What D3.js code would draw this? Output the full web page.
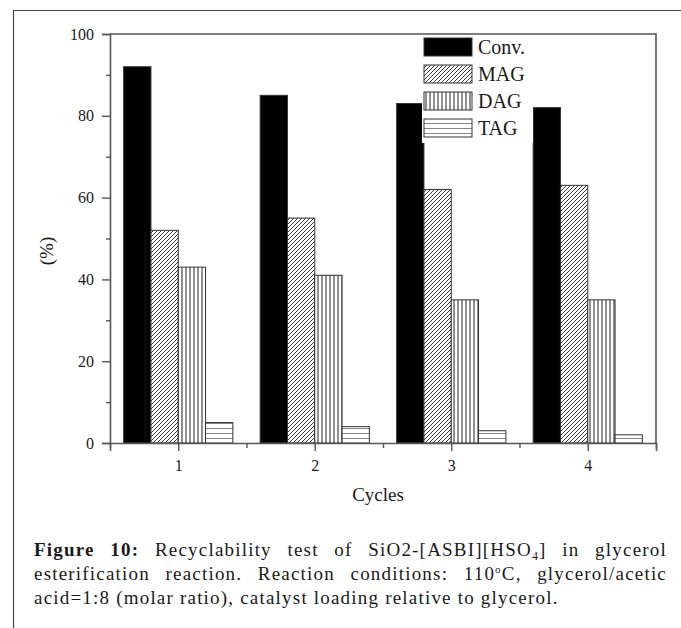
<!DOCTYPE html>
<html>
<head>
<meta charset="utf-8">
<script src="https://cdn.jsdelivr.net/npm/d3@7"></script>
<style>
  html, body { margin: 0; padding: 0; background: #fff; }
  svg { display: block; }
  text { font-family: "Liberation Serif", "Times New Roman", serif; fill: #1a1a1a; }
</style>
</head>
<body>
<svg id="chart" width="681" height="628"></svg>
<script>
// ---- data ----
const cycles = [1, 2, 3, 4];
const seriesNames = ["Conv.", "MAG", "DAG", "TAG"];
const conv = [92, 85, 83, 82];
const mag = [52, 55, 62, 63];
const dag = [43, 41, 35, 35];
const tag = [5, 4, 3, 2];
const yTicks = [0, 20, 40, 60, 80, 100];
const yMinorTicks = [10, 30, 50, 70, 90];
const xMinorTicks = [0.5, 1.5, 2.5, 3.5, 4.5];

const seriesValues = [conv, mag, dag, tag];
const fills = ["#000", "url(#pMAG)", "url(#pDAG)", "url(#pTAG)"];

const svg = d3.select("#chart");
const L = 110, R = 656, T = 34, B = 443;

const x = d3.scaleLinear().domain([0.5, 4.5]).range([L, R]);
const y = d3.scaleLinear().domain([0, 100]).range([B, T]);

// patterns
const defs = svg.append("defs");
const pm = defs.append("pattern").attr("id", "pMAG").attr("patternUnits", "userSpaceOnUse")
  .attr("width", 4).attr("height", 4);
pm.append("rect").attr("width", 4).attr("height", 4).attr("fill", "#fff");
pm.append("path").attr("d", "M-1,1 L1,-1 M0,4 L4,0 M3,5 L5,3")
  .attr("stroke", "#222").attr("stroke-width", 0.9);
const pd = defs.append("pattern").attr("id", "pDAG").attr("patternUnits", "userSpaceOnUse")
  .attr("width", 4).attr("height", 4);
pd.append("rect").attr("width", 4).attr("height", 4).attr("fill", "#fff");
pd.append("path").attr("d", "M2,0 L2,4").attr("stroke", "#222").attr("stroke-width", 1);
const pt = defs.append("pattern").attr("id", "pTAG").attr("patternUnits", "userSpaceOnUse")
  .attr("width", 5).attr("height", 5).attr("y", B);
pt.append("rect").attr("width", 5).attr("height", 5).attr("fill", "#fff");
pt.append("path").attr("d", "M0,0 L5,0").attr("stroke", "#222").attr("stroke-width", 1.1);

// outer frame
svg.append("path").attr("d", "M13.5,628 L13.5,10.5 L681,10.5")
  .attr("fill", "none").attr("stroke", "#444").attr("stroke-width", 1.2);

// bars
const bw = 0.2;
seriesValues.forEach((vals, si) => {
  svg.append("g").selectAll("rect").data(vals).enter().append("rect")
    .attr("x", (d, i) => x(cycles[i] - 0.4 + si * bw))
    .attr("width", x(bw) - x(0))
    .attr("y", d => y(d))
    .attr("height", d => y(0) - y(d))
    .attr("fill", fills[si])
    .attr("stroke", "#333").attr("stroke-width", 1);
});

// frame of plot
svg.append("path").attr("d", `M${L},${T} L${R},${T} L${R},${B}`)
  .attr("fill", "none").attr("stroke", "#555").attr("stroke-width", 1.6);

// y axis
const yAxis = d3.axisLeft(y).tickValues(yTicks).tickSize(8).tickPadding(8);
const gy = svg.append("g").attr("transform", `translate(${L},0)`).call(yAxis);
gy.select(".domain").attr("stroke", "#555").attr("stroke-width", 1.6);
gy.selectAll(".tick line").attr("stroke", "#555").attr("stroke-width", 1.4);
gy.selectAll(".tick text").attr("font-size", 16).attr("font-family", "Liberation Serif").attr("fill", "#1a1a1a");
const gyMinor = svg.append("g").attr("transform", `translate(${L},0)`)
  .call(d3.axisLeft(y).tickValues(yMinorTicks).tickSize(4).tickFormat(""));
gyMinor.select(".domain").remove();
gyMinor.selectAll(".tick line").attr("stroke", "#555").attr("stroke-width", 1.4);

// x axis
const xAxis = d3.axisBottom(x).tickValues(cycles).tickSize(8).tickPadding(9).tickFormat(d3.format("d"));
const gx = svg.append("g").attr("transform", `translate(0,${B})`).call(xAxis);
gx.select(".domain").attr("stroke", "#555").attr("stroke-width", 1.6);
gx.selectAll(".tick line").attr("stroke", "#555").attr("stroke-width", 1.4);
gx.selectAll(".tick text").attr("font-size", 16).attr("font-family", "Liberation Serif").attr("fill", "#1a1a1a");
const gxMinor = svg.append("g").attr("transform", `translate(0,${B})`)
  .call(d3.axisBottom(x).tickValues(xMinorTicks).tickSize(5).tickFormat(""));
gxMinor.select(".domain").remove();
gxMinor.selectAll(".tick line").attr("stroke", "#555").attr("stroke-width", 1.4);

// axis titles
svg.append("text").attr("transform", "translate(53,251) rotate(-90)")
  .attr("text-anchor", "middle").attr("font-size", 19).text("(%)");
svg.append("text").attr("x", 378).attr("y", 501)
  .attr("text-anchor", "middle").attr("font-size", 19).text("Cycles");

// legend
const lg = svg.append("g");
lg.append("rect").attr("x", 422).attr("y", 35).attr("width", 111).attr("height", 108).attr("fill", "#fff");
seriesNames.forEach((name, i) => {
  const yy = 38 + i * 27;
  lg.append("rect").attr("x", 424).attr("y", yy).attr("width", 48).attr("height", 18)
    .attr("fill", fills[i]).attr("stroke", "#333").attr("stroke-width", 1);
  lg.append("text").attr("x", 478).attr("y", yy + 16).attr("font-size", 20).text(name);
});

// caption
const cap = svg.append("g").attr("letter-spacing", 1.2);
const capX = 34, capR = 667;
function justify(t, target) {
  const nat = t.node().getComputedTextLength();
  const full = t.text();
  const spaces = (full.match(/ /g) || []).length;
  if (spaces > 0) t.attr("word-spacing", (target - nat) / spaces);
}
const l1 = cap.append("text").attr("x", capX).attr("y", 556).attr("font-size", 19);
l1.append("tspan").attr("font-weight", "bold").text("Figure 10:");
l1.append("tspan").text(" Recyclability test of SiO2-[ASBI][HSO");
l1.append("tspan").attr("font-size", 12).attr("dy", 4).text("4");
l1.append("tspan").attr("dy", -4).text("] in glycerol");
justify(l1, capR - capX);

const l2 = cap.append("text").attr("x", capX).attr("y", 580).attr("font-size", 19);
l2.append("tspan").text("esterification reaction. Reaction conditions: 110");
l2.append("tspan").attr("font-size", 11).attr("dy", -7).text("o");
l2.append("tspan").attr("dy", 7).text("C, glycerol/acetic");
justify(l2, capR - capX);

cap.append("text").attr("x", capX).attr("y", 604).attr("font-size", 19)
  .text("acid=1:8 (molar ratio), catalyst loading relative to glycerol.");
</script>
</body>
</html>
